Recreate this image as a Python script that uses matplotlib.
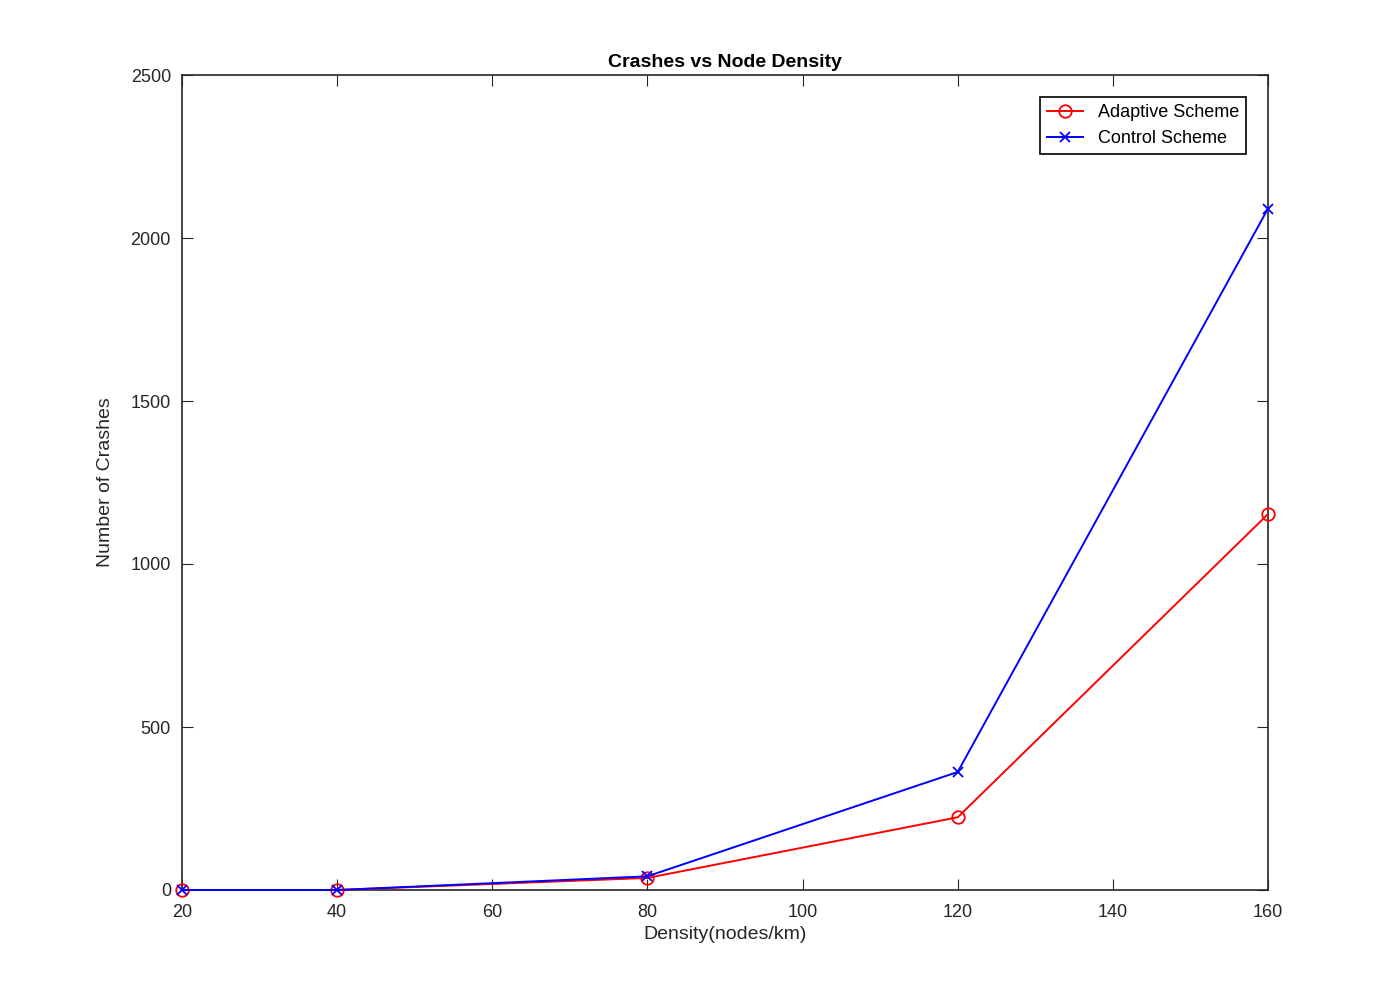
import matplotlib
matplotlib.use("Agg")
import matplotlib.pyplot as plt

density = [20, 40, 80, 120, 160]
adaptive = [0, 0, 37, 223, 1153]
control = [0, 0, 42, 362, 2090]
xticks = [20, 40, 60, 80, 100, 120, 140, 160]
yticks = [0, 500, 1000, 1500, 2000, 2500]

plt.rcParams['font.family'] = ['Liberation Sans', 'DejaVu Sans']
fig = plt.figure(figsize=(14, 10), dpi=100)
ax = fig.add_axes([0.13, 0.11, 0.7757, 0.815])
ax.plot(density, adaptive, color='#ff0000', marker='o', markersize=9, markerfacecolor='none',
        markeredgewidth=1.3, linewidth=1.4, label='Adaptive Scheme', clip_on=False, zorder=3)
ax.plot(density, control, color='#0000ff', marker='x', markersize=7, markeredgewidth=1.3,
        linewidth=1.4, label='Control Scheme', clip_on=False, zorder=3)
ax.set_xlim(20, 160)
ax.set_ylim(0, 2500)
ax.set_xticks(xticks)
ax.set_yticks(yticks)
ax.tick_params(direction='in', top=True, right=True, length=8, labelsize=13, colors='#262626')
ax.tick_params(axis='x', pad=10)
ax.tick_params(axis='y', pad=8)
for s in ax.spines.values():
    s.set_linewidth(1.2)
    s.set_color('#262626')
ax.set_xlabel('Density(nodes/km)', fontsize=14, color='#262626', labelpad=4)
ax.set_ylabel('Number of Crashes', fontsize=14, color='#262626', labelpad=12)
ax.set_title('Crashes vs Node Density', fontsize=14, fontweight='bold', pad=6)
leg = ax.legend(loc='upper right', fontsize=13, fancybox=False, framealpha=1,
                edgecolor='black', borderaxespad=1.2)
leg.get_frame().set_linewidth(1.2)
fig.savefig('out.png', dpi=100)
